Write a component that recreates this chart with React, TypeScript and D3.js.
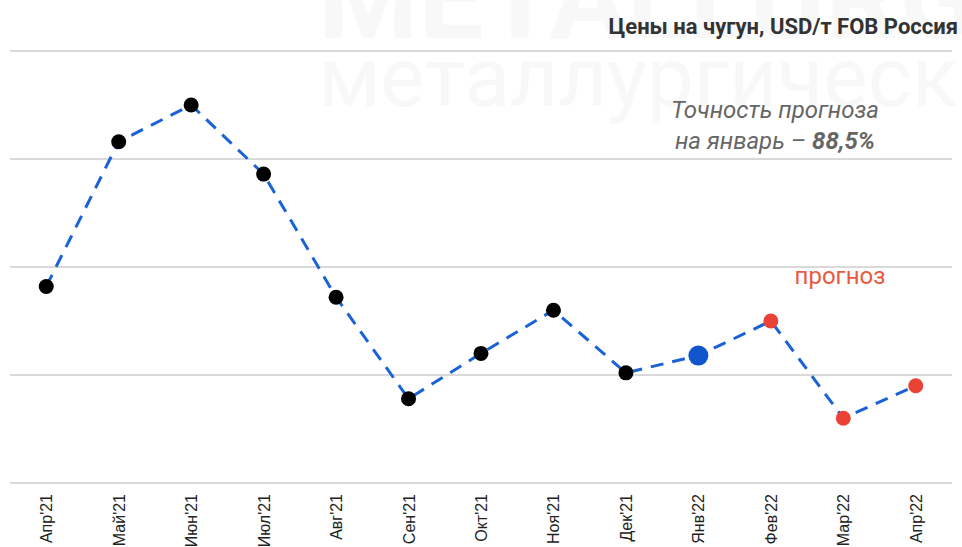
import { useEffect, useRef } from 'react';
import * as d3 from 'd3';

const months = ["Апр'21", "Май'21", "Июн'21", "Июл'21", "Авг'21", "Сен'21", "Окт'21", "Ноя'21", "Дек'21", "Янв'22", "Фев'22", "Мар'22", "Апр'22"];
const prices = [491, 558, 575, 543, 486, 439, 460, 480, 451, 459, 475, 430, 445];
// 0 = fact, 1 = current month, 2 = forecast
const kinds = [0, 0, 0, 0, 0, 0, 0, 0, 0, 1, 2, 2, 2];
const gridValues = [400, 450, 500, 550, 600];

const App = () => {
    const ref = useRef(null);

    useEffect(() => {
        const svg = d3.select(ref.current);
        svg.selectAll('*').remove();
        const width = 962;
        const height = 547;
        const margin = { top: 51, right: 10, bottom: 64, left: 10 };

        const x = d3.scaleBand()
            .domain(months)
            .range([margin.left, width - margin.right]);

        const y = d3.scaleLinear()
            .domain([400, 600])
            .range([height - margin.bottom, margin.top]);

        // faint watermark
        const wm = svg.append('g').attr('fill', '#f8f8f8').attr('font-family', 'Roboto, sans-serif');
        wm.append('text').attr('x', 318).attr('y', 38)
            .attr('font-size', 115).attr('font-weight', 'bold').text('METALLURGICAL');
        wm.append('text').attr('x', 318).attr('y', 106)
            .attr('font-size', 84).text('металлургический');

        svg.append('g')
            .selectAll('line').data(gridValues).enter().append('line')
            .attr('x1', margin.left).attr('x2', width - margin.right)
            .attr('y1', d => y(d)).attr('y2', d => y(d))
            .attr('stroke', '#cccccc').attr('stroke-width', 1.5);

        svg.append('g')
            .selectAll('text').data(months).enter().append('text')
            .attr('transform', d => `translate(${x(d) + x.bandwidth() / 2 + 6},494) rotate(-90)`)
            .attr('text-anchor', 'end')
            .attr('font-family', '"Liberation Sans", Arial, sans-serif')
            .attr('font-size', 16)
            .attr('fill', '#222')
            .text(d => d);

        const line = d3.line()
            .x((d, i) => x(months[i]) + x.bandwidth() / 2)
            .y(d => y(d));

        svg.append('path')
            .datum(prices)
            .attr('d', line)
            .attr('fill', 'none')
            .attr('stroke', '#1a62d6')
            .attr('stroke-width', 3)
            .attr('stroke-dasharray', '13,9');

        svg.append('g')
            .selectAll('circle').data(prices).enter().append('circle')
            .attr('cx', (d, i) => x(months[i]) + x.bandwidth() / 2)
            .attr('cy', d => y(d))
            .attr('r', (d, i) => kinds[i] === 1 ? 10 : 7.5)
            .attr('fill', (d, i) => kinds[i] === 0 ? '#000' : kinds[i] === 1 ? '#1155cc' : '#ea4335');

        svg.append('text')
            .attr('x', 958).attr('y', 34)
            .attr('text-anchor', 'end')
            .attr('font-family', 'Roboto, sans-serif')
            .attr('font-weight', 'bold')
            .attr('font-size', 22)
            .attr('fill', '#333')
            .text('Цены на чугун, USD/т FOB Россия');

        const note = svg.append('text')
            .attr('text-anchor', 'middle')
            .attr('font-family', 'Roboto, sans-serif')
            .attr('font-style', 'italic')
            .attr('font-size', 24)
            .attr('fill', '#666');
        note.append('tspan').attr('x', 775).attr('y', 118).text('Точность прогноза');
        const l2 = note.append('tspan').attr('x', 775).attr('y', 149);
        l2.append('tspan').text('на январь – ');
        l2.append('tspan').attr('font-weight', 'bold').text('88,5%');

        svg.append('text')
            .attr('x', 840).attr('y', 284)
            .attr('text-anchor', 'middle')
            .attr('font-family', 'Roboto, sans-serif')
            .attr('font-size', 24)
            .attr('fill', '#ea5a3f')
            .text('прогноз');
    }, []);

    return (
        <svg ref={ref} width={962} height={547} style={{ position: 'absolute', left: 0, top: 0, background: '#fff' }} />
    );
};

export default App;
